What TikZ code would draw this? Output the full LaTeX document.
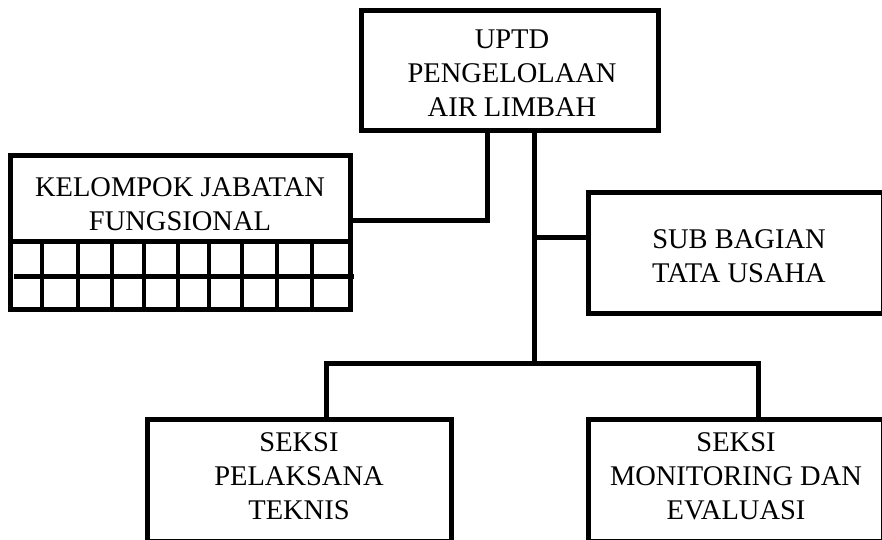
\documentclass[tikz,border=0pt]{standalone}
\usepackage{fontspec}
\setmainfont{Liberation Serif}
\begin{document}
\begin{tikzpicture}[x=1pt,y=-1pt,
  box/.style={draw, line width=5pt, rectangle, inner sep=0pt, align=center},
  lbl/.style={inner sep=0pt, align=center, font=\fontsize{28.5}{34}\selectfont},
  conn/.style={line width=5pt},
  gridl/.style={line width=4.5pt}]
\useasboundingbox (0,0) rectangle (882,539);
\clip (0,0) rectangle (882,539);
% boxes
\node[box, minimum width=297pt, minimum height=120pt] (uptd) at (509.5,70) {};
\node[lbl] (uptdt) at (512,73) {UPTD\\PENGELOLAAN\\AIR LIMBAH};
\node[box, minimum width=340pt, minimum height=86pt] (kjf) at (180,198.5) {};
\node[lbl] (kjft) at (180,204) {KELOMPOK JABATAN\\FUNGSIONAL};
\node[box, minimum width=340pt, minimum height=68pt] (kjfg) at (180,275.5) {};
\node[box, minimum width=295pt, minimum height=121pt] (sub) at (735.5,252.5) {};
\node[lbl] (subt) at (739,256) {SUB BAGIAN\\TATA USAHA};
\node[box, minimum width=304pt, minimum height=122pt] (pel) at (299,480) {};
\node[lbl] (pelt) at (299,476) {SEKSI\\PELAKSANA\\TEKNIS};
\node[box, minimum width=295pt, minimum height=122pt] (mon) at (735.5,480) {};
\node[lbl] (mont) at (736,476) {SEKSI\\MONITORING DAN\\EVALUASI};
% grid
\foreach \x in {42,78,112,144,178,209,242,277,312}
  \draw[gridl] (\x,241.5) -- (\x,309.5);
\draw[conn] (14,276.5) -- (354,276.5);
% connectors
\coordinate (jk) at (487,220);
\draw[conn] (uptd.south -| jk) -- (jk) -- (kjf.east |- jk);
\coordinate (jm) at (534,363);
\draw[conn] (uptd.south -| jm) -- (jm);
\coordinate (js) at (534,237);
\draw[conn] (js) -- (sub.west |- js);
\coordinate (jl) at (326,363);
\coordinate (jr) at (758,363);
\draw[conn] (pel.north -| jl) -- (jl) -- (jr) -- (mon.north -| jr);
\end{tikzpicture}
\end{document}
